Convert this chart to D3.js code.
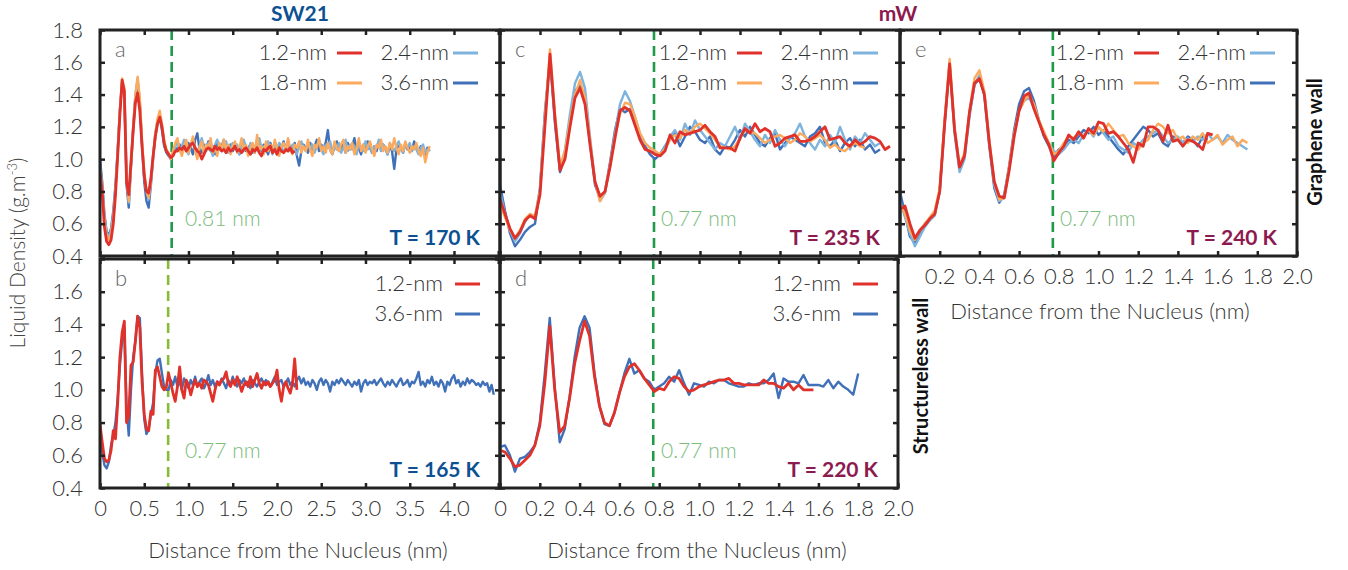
<!DOCTYPE html>
<html>
<head>
<meta charset="utf-8">
<script src="https://cdn.jsdelivr.net/npm/d3@7"></script>
<style>
  body { margin: 0; background: #fff; }
  text { font-family: Lato, "Open Sans", sans-serif; }
</style>
</head>
<body>
<svg id="chart" width="1348" height="570"></svg>
<script>
// sampling step of every density profile (nm)
var STEP = 0.025;

var sizeLabels = ["1.2-nm", "1.8-nm", "2.4-nm", "3.6-nm"];
var yTicks = [0.4, 0.6, 0.8, 1.0, 1.2, 1.4, 1.6, 1.8];
var xTicksSW = [0, 0.5, 1.0, 1.5, 2.0, 2.5, 3.0, 3.5, 4.0, 4.5];
var xTicksMW = [0, 0.2, 0.4, 0.6, 0.8, 1.0, 1.2, 1.4, 1.6, 1.8, 2.0];

// a: SW21, graphene wall, 170 K
var a12 = [0.92,0.80,0.58,0.49,0.47,0.50,0.60,0.78,1.02,1.28,1.49,1.42,0.86,0.78,0.98,1.18,1.35,1.41,1.30,1.08,
  0.90,0.80,0.79,0.88,1.02,1.14,1.22,1.26,1.20,1.10,1.05,1.03,1.01,1.02,1.05,
  1.05,1.07,1.06,1.08,1.05,1.07,1.09,1.10,1.07,1.05,1.04,1.00,1.03,1.06,1.07,1.06,1.05,1.08,1.06,1.07,
  1.05,1.06,1.04,1.07,1.05,1.06,1.08,1.05,1.06,1.04,1.06,1.07,1.05,1.03,1.06,1.05,1.07,1.04,1.02,1.06,
  1.05,1.07,1.08,1.04,1.06,1.03,1.07,1.05,1.04,1.06,1.05,1.07,1.04,1.05];
var a18 = [0.93,0.82,0.62,0.52,0.50,0.54,0.63,0.80,1.04,1.30,1.50,1.44,0.88,0.74,0.98,1.20,1.40,1.51,1.38,1.12,
  0.92,0.80,0.76,0.86,1.02,1.16,1.25,1.30,1.22,1.12,1.06,1.04,1.00,1.05,1.10,
  1.13,1.06,1.02,1.08,1.12,1.04,1.09,1.14,1.05,1.00,1.07,1.11,1.03,1.09,1.06,1.13,1.04,1.08,1.02,1.10,
  1.06,1.12,1.05,1.09,1.03,1.08,1.11,1.04,1.07,1.13,1.05,1.09,1.02,1.07,1.10,1.04,1.15,1.06,1.08,1.03,
  1.11,1.05,1.09,1.04,1.12,1.07,1.02,1.08,1.10,1.05,1.13,1.06,1.03,1.09,1.07,1.11,1.04,1.08,1.05,1.12,
  1.06,1.02,1.09,1.07,1.13,1.05,1.08,1.04,1.10,1.06,1.03,1.11,1.07,1.05,1.09,1.12,1.04,1.08,1.06,1.10,
  1.03,1.07,1.13,1.05,1.09,1.04,1.08,1.11,1.06,1.02,1.09,1.07,1.12,1.05,1.08,1.04,1.10,1.06,1.13,1.07,
  1.03,1.09,1.05,1.11,1.07,1.04,1.08,1.06,1.10,1.05,1.02,1.07,0.98,1.04,1.08];
var a24 = [0.96,0.84,0.64,0.54,0.52,0.56,0.66,0.82,1.05,1.30,1.48,1.42,0.90,0.73,0.96,1.20,1.40,1.50,1.36,1.10,
  0.90,0.80,0.75,0.86,1.02,1.16,1.24,1.28,1.20,1.10,1.05,1.03,1.00,1.04,1.08,
  1.10,1.05,1.08,1.12,1.06,1.03,1.09,1.11,1.06,1.04,1.08,1.13,1.07,1.05,1.10,1.06,1.02,1.09,1.12,1.07,
  1.05,1.08,1.11,1.04,1.07,1.10,1.06,1.09,1.03,1.08,1.12,1.06,1.05,1.10,1.07,1.04,1.09,1.13,1.06,1.08,
  1.05,1.11,1.07,1.03,1.09,1.06,1.10,1.08,1.04,1.07,1.12,1.05,1.09,1.06,1.03,1.08,1.11,1.07,1.05,1.10,
  1.06,1.09,1.04,1.08,1.12,1.06,1.03,1.09,1.07,1.11,1.05,1.08,1.06,1.10,1.04,1.07,1.12,1.05,1.09,1.06,
  1.08,1.03,1.10,1.07,1.05,1.11,1.06,1.09,1.04,1.08,1.07,1.12,1.05,1.09,1.06,1.03,1.10,1.07,1.05,1.08,
  1.11,1.06,1.04,1.09,1.07,1.10,1.05,1.08,1.06,1.03,1.07,1.09,1.04,1.06,1.05];
var a36 = [1.00,0.86,0.66,0.55,0.53,0.57,0.68,0.84,1.06,1.30,1.47,1.40,0.84,0.70,0.95,1.18,1.38,1.48,1.34,1.08,
  0.86,0.74,0.70,0.84,1.00,1.14,1.22,1.26,1.18,1.08,1.04,1.02,1.00,1.04,1.07,
  1.06,1.09,1.04,1.08,1.05,1.10,1.07,1.03,1.12,1.16,1.06,1.04,1.09,1.07,1.11,1.05,1.08,1.03,1.10,1.06,
  1.08,1.12,1.04,1.07,1.09,1.05,1.10,1.06,1.03,1.08,1.11,1.05,1.07,1.09,1.04,1.08,1.06,1.12,1.05,1.09,
  1.07,1.03,1.10,1.06,1.08,1.04,1.09,1.07,1.11,1.05,1.06,1.08,1.04,1.10,1.02,0.96,1.05,1.09,1.07,1.04,
  1.10,1.06,1.08,1.12,1.05,1.09,1.07,1.10,1.18,1.06,1.03,1.08,1.11,1.05,1.07,1.09,1.04,1.10,1.06,1.08,
  1.13,1.05,1.07,1.03,1.09,1.06,1.11,1.07,1.04,1.08,1.05,1.10,1.06,1.09,1.07,1.03,1.08,1.05,0.94,1.06,
  1.09,1.07,1.04,1.10,1.06,1.08,1.05,1.11,1.07,1.04,1.08,1.06,1.03,1.07,1.05];

// b: SW21, structureless wall, 165 K
var b12 = [0.79,0.68,0.58,0.56,0.57,0.63,0.75,0.70,0.92,1.20,1.35,1.42,0.80,0.84,1.15,1.17,1.30,1.45,1.38,1.05,
  0.85,0.76,0.75,0.87,0.85,1.12,1.14,1.08,1.02,1.00,1.02,1.10,
  1.04,0.98,0.93,1.02,1.14,1.00,0.95,1.06,1.03,0.97,1.02,1.06,1.02,1.04,1.01,1.06,1.05,1.03,0.98,0.93,
  1.00,1.05,1.03,1.06,1.07,1.11,1.04,1.02,1.06,1.03,1.08,1.04,0.99,1.03,1.05,1.02,1.08,1.02,1.06,1.10,
  1.04,1.01,1.05,1.03,1.05,1.02,1.04,1.06,1.12,1.00,0.93,1.02,1.05,1.01,0.98,1.04,1.19,1.00];
var b36 = [0.75,0.62,0.54,0.52,0.56,0.66,0.72,0.80,0.95,1.15,1.30,1.38,0.90,0.72,1.00,1.20,1.30,1.45,1.44,1.10,
  0.82,0.73,0.76,0.85,0.92,1.10,1.18,1.19,1.10,1.02,1.00,1.00,
  1.06,1.03,1.08,1.02,1.05,1.00,1.07,1.04,1.01,1.06,1.03,1.08,1.02,1.05,1.07,1.01,1.04,1.09,1.03,1.06,
  1.02,1.05,1.03,1.07,1.04,1.01,1.06,1.03,1.08,1.04,1.02,1.06,1.04,1.07,1.03,1.05,1.01,1.06,1.04,1.02,
  1.05,1.07,1.03,1.06,1.04,1.02,1.05,1.08,1.03,1.05,1.06,1.02,1.04,1.07,1.03,1.05,1.02,1.06,1.08,1.04,
  1.07,1.03,1.05,1.02,1.06,1.04,1.00,1.05,1.07,1.03,1.06,1.04,0.99,1.05,1.03,1.06,1.04,1.07,1.05,1.03,
  1.06,1.04,1.02,1.05,1.03,1.06,0.99,1.04,1.06,1.03,1.05,1.04,1.06,1.03,1.05,1.07,1.04,1.02,1.05,1.03,
  1.06,1.04,1.02,1.05,1.07,1.03,1.04,1.06,1.02,1.05,1.04,1.07,1.11,1.03,1.05,1.02,1.06,1.04,1.08,1.03,
  1.05,1.02,1.06,1.04,0.99,1.05,1.03,1.07,1.09,1.04,1.06,1.02,1.05,1.03,1.07,1.04,1.06,1.05,1.03,1.04,
  1.02,1.05,1.03,1.04,0.99,1.03,0.97];

// c: mW, graphene wall, 235 K
var c12 = [0.75,0.66,0.57,0.51,0.55,0.62,0.65,0.63,0.78,1.21,1.65,1.25,0.93,1.00,1.20,1.38,1.44,1.34,1.09,0.86,
  0.77,0.80,0.95,1.13,1.30,1.32,1.30,1.21,1.12,1.06,1.05,1.03,1.02,1.05,1.15,1.10,1.17,1.15,1.16,1.17,
  1.18,1.21,1.17,1.14,1.07,1.07,1.07,1.05,1.13,1.19,1.16,1.22,1.17,1.19,1.17,1.08,1.10,1.13,1.14,1.15,
  1.11,1.11,1.12,1.14,1.17,1.20,1.12,1.13,1.14,1.10,1.08,1.12,1.09,1.11,1.14,1.13,1.11,1.06,1.08];
var c18 = [0.72,0.64,0.56,0.51,0.56,0.63,0.66,0.65,0.80,1.25,1.68,1.28,0.96,1.05,1.24,1.40,1.49,1.38,1.12,0.86,
  0.74,0.80,0.96,1.14,1.28,1.35,1.34,1.26,1.16,1.10,1.07,1.05,1.03,
  1.06,1.12,1.15,1.13,1.18,1.16,1.20,1.22,1.19,1.16,1.12,1.08,1.07,1.06,1.08,1.13,1.18,1.17,1.16,1.13,
  1.10,1.12,1.14,1.15,1.13,1.10,1.12,1.16,1.14,1.11,1.13,1.15,1.12,1.07,1.09,1.06,1.05,1.08,1.10,1.08,1.07];
var c24 = [0.80,0.66,0.56,0.49,0.54,0.61,0.66,0.64,0.82,1.28,1.62,1.25,0.94,1.06,1.28,1.47,1.54,1.44,1.14,0.86,
  0.74,0.79,0.96,1.16,1.34,1.42,1.36,1.26,1.16,1.10,1.07,1.05,1.02,
  1.08,1.14,1.18,1.12,1.22,1.15,1.24,1.18,1.14,1.10,1.06,1.10,1.08,1.14,1.20,1.12,1.22,1.17,1.12,1.08,
  1.15,1.10,1.18,1.12,1.08,1.13,1.16,1.22,1.14,1.10,1.06,1.12,1.08,1.15,1.10,1.20,1.12,1.06,1.14,1.10,
  1.16,1.12,1.08,1.10];
var c36 = [0.84,0.68,0.54,0.46,0.50,0.55,0.58,0.60,0.82,1.30,1.62,1.22,0.92,1.02,1.25,1.42,1.46,1.36,1.10,0.84,
  0.76,0.80,0.98,1.18,1.31,1.29,1.31,1.22,1.14,1.08,1.03,1.00,1.03,
  1.08,1.12,1.16,1.08,1.14,1.20,1.17,1.12,1.10,1.14,1.06,1.03,1.08,1.07,1.12,1.18,1.14,1.20,1.15,1.10,
  1.08,1.13,1.16,1.06,1.10,1.14,1.12,1.10,1.08,1.14,1.16,1.20,1.10,1.08,1.12,1.05,1.10,1.13,1.08,1.12,
  1.06,1.09,1.04,1.06];

// d: mW, structureless wall, 220 K
var d12 = [0.63,0.62,0.58,0.53,0.54,0.57,0.60,0.66,0.78,1.04,1.39,1.00,0.74,0.78,0.95,1.16,1.30,1.42,1.33,1.08,
  0.90,0.80,0.78,0.86,0.98,1.08,1.14,1.16,1.12,1.07,1.03,0.99,1.01,1.00,1.05,1.08,1.07,1.02,0.99,1.00,
  1.02,1.03,1.04,1.05,1.06,1.06,1.07,1.04,1.04,1.03,1.03,1.03,1.03,1.06,1.04,1.04,1.02,1.01,1.04,1.00,
  1.03,1.00,1.00,1.00];
var d36 = [0.65,0.66,0.60,0.50,0.58,0.59,0.62,0.66,0.80,1.10,1.44,1.02,0.68,0.76,0.96,1.20,1.38,1.45,1.38,1.10,
  0.90,0.79,0.78,0.86,0.98,1.10,1.19,1.10,1.12,1.07,1.05,1.00,1.02,1.04,1.08,1.05,1.12,1.04,0.97,1.04,
  1.03,1.02,1.05,1.04,1.06,1.06,1.04,1.03,1.02,1.02,1.04,1.03,1.04,1.04,1.06,1.10,0.95,1.07,1.05,1.05,
  1.04,1.09,1.03,1.03,1.03,1.02,1.06,1.01,1.05,1.02,1.00,0.97,1.10];

// e: mW, graphene wall, 240 K
var e12 = [0.69,0.71,0.60,0.51,0.56,0.59,0.63,0.66,0.80,1.22,1.59,1.18,0.95,1.02,1.29,1.47,1.50,1.40,1.10,0.86,
  0.77,0.76,0.93,1.14,1.30,1.39,1.41,1.31,1.23,1.15,1.09,0.99,1.04,1.08,1.15,1.12,1.17,1.13,1.19,1.16,
  1.23,1.22,1.16,1.17,1.14,1.10,1.06,0.98,1.10,1.08,1.20,1.20,1.18,1.11,1.21,1.11,1.12,1.08,1.12,1.11,
  1.09,1.06,1.16,1.15];
var e18 = [0.72,0.66,0.56,0.50,0.56,0.60,0.64,0.68,0.82,1.25,1.62,1.20,0.96,1.04,1.30,1.50,1.55,1.42,1.12,0.86,
  0.75,0.76,0.95,1.16,1.30,1.36,1.40,1.34,1.24,1.17,1.10,1.03,1.05,
  1.10,1.14,1.13,1.16,1.14,1.18,1.15,1.20,1.17,1.22,1.18,1.14,1.15,1.10,1.08,1.06,1.10,1.12,1.18,1.22,
  1.20,1.16,1.18,1.12,1.14,1.10,1.14,1.12,1.16,1.10,1.12,1.15,1.09,1.12,1.14,1.08,1.12,1.10];
var e24 = [0.74,0.64,0.54,0.46,0.52,0.58,0.62,0.65,0.80,1.24,1.60,1.16,0.92,1.00,1.26,1.46,1.52,1.40,1.10,0.84,
  0.74,0.76,0.94,1.14,1.30,1.36,1.38,1.32,1.24,1.16,1.10,1.05,1.03,
  1.06,1.10,1.12,1.10,1.15,1.18,1.14,1.20,1.16,1.12,1.14,1.08,1.06,1.04,1.10,1.08,1.12,1.14,1.16,1.18,
  1.14,1.10,1.12,1.14,1.10,1.13,1.11,1.14,1.12,1.16,1.12,1.14,1.10,1.15,1.12,1.10,1.08,1.06];
var e36 = [0.80,0.66,0.52,0.48,0.54,0.60,0.63,0.66,0.80,1.22,1.58,1.18,0.94,1.02,1.28,1.46,1.50,1.40,1.08,0.82,
  0.73,0.78,0.96,1.18,1.34,1.42,1.44,1.36,1.24,1.14,1.08,1.02,1.06,
  1.08,1.12,1.10,1.14,1.18,1.16,1.20,1.15,1.18,1.14,1.10,1.06,1.03,1.08,1.12,1.16,1.20,1.18,1.14,1.16,
  1.10,1.08,1.14,1.12,1.10,1.14,1.12,1.08,1.14,1.12];

var colors = { "1.2-nm": "#e0312a", "1.8-nm": "#fbaa5e", "2.4-nm": "#7db3dc", "3.6-nm": "#3f70b8" };
var swBlue = "#0d5193", mwRed = "#8d1a4f";

var svg = d3.select("#chart");

var panels = [
  { id: "a", left: 100, right: 500, top: 30, bottom: 256, xmax: 4.52, xTicks: xTicksSW,
    series: [a36, a24, a18, a12], sizes: [3, 2, 1, 0], cut: 0.81, cutColor: "#1f9a48", cutLabel: "0.81 nm",
    temp: "T = 170 K", tempColor: swBlue, yLabels: true, xLabels: false },
  { id: "b", left: 100, right: 500, top: 259, bottom: 488, xmax: 4.52, xTicks: xTicksSW,
    series: [b36, b12], sizes: [3, 0], cut: 0.77, cutColor: "#86bc3c", cutLabel: "0.77 nm",
    temp: "T = 165 K", tempColor: swBlue, yLabels: true, xLabels: true, skipTop: true },
  { id: "c", left: 500, right: 900, top: 30, bottom: 256, xmax: 2.0, xTicks: xTicksMW,
    series: [c36, c24, c18, c12], sizes: [3, 2, 1, 0], cut: 0.77, cutColor: "#1f9a48", cutLabel: "0.77 nm",
    temp: "T = 235 K", tempColor: mwRed, yLabels: false, xLabels: false },
  { id: "d", left: 500, right: 898, top: 259, bottom: 488, xmax: 2.0, xTicks: xTicksMW,
    series: [d36, d12], sizes: [3, 0], cut: 0.77, cutColor: "#1f9a48", cutLabel: "0.77 nm",
    temp: "T = 220 K", tempColor: mwRed, yLabels: false, xLabels: true },
  { id: "e", left: 900, right: 1297, top: 30, bottom: 256, xmax: 2.0, xTicks: xTicksMW,
    series: [e36, e24, e18, e12], sizes: [3, 2, 1, 0], cut: 0.77, cutColor: "#1f9a48", cutLabel: "0.77 nm",
    temp: "T = 240 K", tempColor: mwRed, yLabels: false, xLabels: true, skipZero: true }
];

function drawPanel(p) {
  var x = d3.scaleLinear().domain([0, p.xmax]).range([p.left, p.right]);
  var y = d3.scaleLinear().domain([0.4, 1.8]).range([p.bottom, p.top]);
  var g = svg.append("g");

  g.append("clipPath").attr("id", "clip-" + p.id)
    .append("rect")
      .attr("x", p.left).attr("y", p.top)
      .attr("width", p.right - p.left).attr("height", p.bottom - p.top);

  // nucleus boundary
  g.append("line")
    .attr("x1", x(p.cut)).attr("x2", x(p.cut))
    .attr("y1", p.top).attr("y2", p.bottom)
    .attr("stroke", p.cutColor).attr("stroke-width", 2.6)
    .attr("stroke-dasharray", "10,6");

  var line = d3.line()
    .x(function(d, i) { return x(i * STEP); })
    .y(function(d) { return y(d); });

  var plot = g.append("g").attr("clip-path", "url(#clip-" + p.id + ")");
  p.series.forEach(function(values, k) {
    var name = sizeLabels[p.sizes[k]];
    plot.append("path")
      .datum(values)
      .attr("d", line)
      .attr("fill", "none")
      .attr("stroke", colors[name])
      .attr("stroke-width", name === "1.2-nm" ? 2.8 : 2.4)
      .attr("stroke-linejoin", "round");
  });

  // ticks on all four sides, pointing inward
  function style(ax) {
    ax.select(".domain").remove();
    ax.selectAll(".tick line").attr("stroke", "#222").attr("stroke-width", 2.5);
    ax.selectAll("text").attr("fill", "#333").attr("font-size", 22)
      .attr("font-family", "Lato, sans-serif").attr("font-weight", 300);
  }
  var fmtX = function(d) {
    if (d === 0) return p.skipZero ? "" : "0";
    if (d > 4.2) return "";
    return d3.format(".1f")(d);
  };
  g.append("g").attr("transform", "translate(0," + p.bottom + ")")
    .call(d3.axisBottom(x).tickValues(p.xTicks).tickSize(-5).tickPadding(12)
      .tickFormat(p.xLabels ? fmtX : ""))
    .call(style);
  g.append("g").attr("transform", "translate(0," + p.top + ")")
    .call(d3.axisTop(x).tickValues(p.xTicks).tickSize(-5).tickFormat(""))
    .call(style);
  var fmtY = function(d) { return (p.skipTop && d > 1.7) ? "" : d3.format(".1f")(d); };
  g.append("g").attr("transform", "translate(" + p.left + ",0)")
    .call(d3.axisLeft(y).tickValues(yTicks).tickSize(-5).tickPadding(17)
      .tickFormat(p.yLabels ? fmtY : ""))
    .call(style);
  g.append("g").attr("transform", "translate(" + p.right + ",0)")
    .call(d3.axisRight(y).tickValues(yTicks).tickSize(-5).tickFormat(""))
    .call(style);

  g.append("rect")
    .attr("x", p.left).attr("y", p.top)
    .attr("width", p.right - p.left).attr("height", p.bottom - p.top)
    .attr("fill", "none").attr("stroke", "#222").attr("stroke-width", 3);

  // panel letter
  g.append("text").attr("x", p.left + 15).attr("y", p.top + 27)
    .attr("font-size", 22).attr("font-weight", 300).attr("fill", "#666").text(p.id);

  // legend
  var rows;
  if (p.series.length === 4) {
    rows = [
      { name: "1.2-nm", tx: p.right - 173, ty: p.top + 30, lx: p.right - 163 },
      { name: "1.8-nm", tx: p.right - 173, ty: p.top + 60, lx: p.right - 163 },
      { name: "2.4-nm", tx: p.right - 51, ty: p.top + 30, lx: p.right - 47 },
      { name: "3.6-nm", tx: p.right - 51, ty: p.top + 60, lx: p.right - 47 }
    ];
  } else {
    rows = [
      { name: "1.2-nm", tx: p.right - 57, ty: p.top + 32, lx: p.right - 45 },
      { name: "3.6-nm", tx: p.right - 57, ty: p.top + 62, lx: p.right - 45 }
    ];
  }
  rows.forEach(function(r) {
    g.append("text").attr("x", r.tx).attr("y", r.ty)
      .attr("text-anchor", "end").attr("font-size", 22).attr("font-weight", 300)
      .attr("fill", "#333").text(r.name);
    g.append("line")
      .attr("x1", r.lx).attr("x2", r.lx + 25)
      .attr("y1", r.ty - 7).attr("y2", r.ty - 7)
      .attr("stroke", colors[r.name]).attr("stroke-width", 3);
  });

  // cut label and temperature
  var cx = p.left < 150 ? 185 : (p.left < 600 ? 661 : 1060);
  g.append("text").attr("x", cx).attr("y", p.bottom - 30)
    .attr("font-size", 21).attr("font-weight", 300).attr("fill", "#7cbc7c").text(p.cutLabel);
  g.append("text").attr("x", p.right - 20).attr("y", p.bottom - 11)
    .attr("text-anchor", "end").attr("font-size", 21).attr("font-weight", 700)
    .attr("fill", p.tempColor).text(p.temp);
}

panels.forEach(drawPanel);

// model titles
svg.append("text").attr("x", 300).attr("y", 21).attr("text-anchor", "middle")
  .attr("font-size", 21).attr("font-weight", 700).attr("fill", swBlue).text("SW21");
svg.append("text").attr("x", 898).attr("y", 21).attr("text-anchor", "middle")
  .attr("font-size", 21).attr("font-weight", 700).attr("fill", mwRed).text("mW");

// wall labels
svg.append("text").attr("transform", "translate(1322,142) rotate(-90)")
  .attr("text-anchor", "middle").attr("font-size", 20).attr("font-weight", 700)
  .attr("fill", "#111").text("Graphene wall");
svg.append("text").attr("transform", "translate(928,376) rotate(-90)")
  .attr("text-anchor", "middle").attr("font-size", 20).attr("font-weight", 700)
  .attr("fill", "#111").text("Structureless wall");

// axis titles
var yt = svg.append("text").attr("transform", "translate(25,253) rotate(-90)")
  .attr("text-anchor", "middle").attr("font-size", 21).attr("font-weight", 300).attr("fill", "#444");
yt.append("tspan").text("Liquid Density (g.m");
yt.append("tspan").attr("font-size", 13).attr("dy", -8).text("-3");
yt.append("tspan").attr("dy", 8).text(")");

[[298, 558], [697, 558], [1100, 319]].forEach(function(pos) {
  svg.append("text").attr("x", pos[0]).attr("y", pos[1]).attr("text-anchor", "middle")
    .attr("font-size", 22).attr("font-weight", 300).attr("fill", "#333")
    .text("Distance from the Nucleus (nm)");
});
</script>
</body>
</html>
